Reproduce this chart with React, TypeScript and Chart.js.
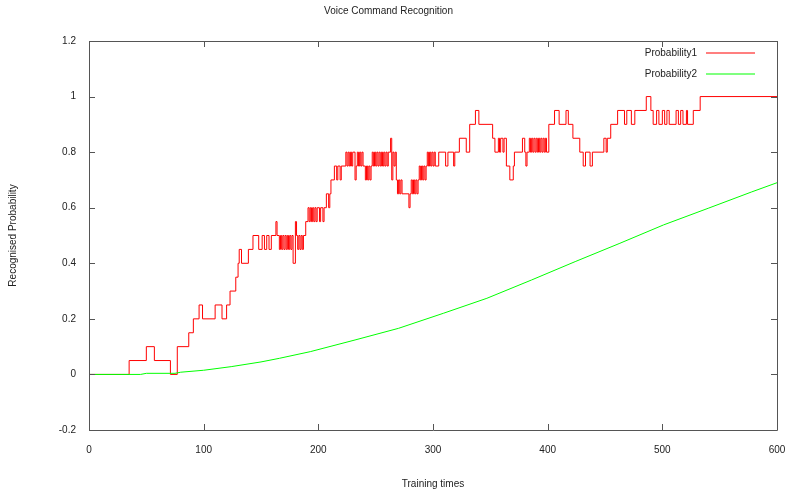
import React, { useEffect, useRef } from 'react';
import { Chart, registerables } from 'chart.js';

Chart.register(...registerables);

const titleText = 'Voice Command Recognition';
const xAxisTitle = 'Training times';
const yAxisTitle = 'Recognised Probability';
const seriesNames = ['Probability1', 'Probability2'];
const seriesColors = ['#ff0000', '#00ff00'];
const xTicks = [0, 100, 200, 300, 400, 500, 600];
const yTicks = [-0.2, 0, 0.2, 0.4, 0.6, 0.8, 1, 1.2];

// Probability1: [training time where the value starts, value]
const redSteps: [number, number][] = [
  [0, 0], [35, 0.05], [50, 0.1], [57, 0.05], [71, 0], [77, 0.1], [87, 0.15], [91, 0.2], [96, 0.25], [99, 0.2],
  [110, 0.25], [116, 0.2], [120, 0.25], [123, 0.3], [128, 0.35], [130, 0.4], [131, 0.45], [133, 0.4], [139, 0.45], [143, 0.5],
  [148, 0.45], [151, 0.5], [153, 0.45], [155, 0.5], [157, 0.45], [159, 0.5], [163, 0.55], [164, 0.5], [166, 0.45], [167, 0.5],
  [168, 0.45], [169, 0.5], [170, 0.45], [171, 0.5], [172, 0.45], [173, 0.5], [174, 0.45], [175, 0.5], [176, 0.45], [177, 0.5],
  [178, 0.4], [180, 0.55], [181, 0.5], [182, 0.45], [183, 0.5], [184, 0.45], [185, 0.5], [186, 0.45], [187, 0.5], [189, 0.55],
  [191, 0.6], [192, 0.55], [193, 0.6], [194, 0.55], [195, 0.6], [196, 0.55], [197, 0.6], [198, 0.55], [199, 0.6], [201, 0.55],
  [202, 0.6], [204, 0.55], [205, 0.6], [207, 0.65], [209, 0.6], [210, 0.65], [211, 0.7], [214, 0.75], [216, 0.7], [217, 0.75],
  [219, 0.7], [220, 0.75], [224, 0.8], [225, 0.75], [226, 0.8], [227, 0.75], [228, 0.8], [229, 0.75], [230, 0.8], [232, 0.7],
  [233, 0.75], [234, 0.8], [235, 0.75], [236, 0.8], [237, 0.75], [238, 0.8], [239, 0.75], [241, 0.7], [242, 0.75], [243, 0.7],
  [244, 0.75], [245, 0.7], [246, 0.75], [247, 0.8], [248, 0.75], [249, 0.8], [250, 0.75], [251, 0.8], [252, 0.75], [253, 0.8],
  [254, 0.75], [255, 0.8], [256, 0.75], [257, 0.8], [258, 0.75], [259, 0.8], [260, 0.75], [261, 0.8], [263, 0.85], [264, 0.7],
  [265, 0.8], [266, 0.75], [267, 0.8], [268, 0.7], [269, 0.65], [270, 0.7], [271, 0.65], [272, 0.7], [273, 0.65], [279, 0.6],
  [280, 0.65], [281, 0.7], [282, 0.65], [283, 0.7], [284, 0.65], [285, 0.7], [286, 0.65], [287, 0.7], [288, 0.75], [289, 0.7],
  [290, 0.75], [291, 0.7], [292, 0.75], [293, 0.7], [294, 0.75], [295, 0.8], [296, 0.75], [297, 0.8], [298, 0.75], [299, 0.8],
  [300, 0.75], [301, 0.8], [302, 0.75], [305, 0.8], [311, 0.75], [313, 0.8], [318, 0.75], [319, 0.8], [323, 0.85], [329, 0.8],
  [332, 0.9], [337, 0.95], [340, 0.9], [352, 0.85], [354, 0.8], [357, 0.85], [358, 0.8], [359, 0.85], [361, 0.8], [362, 0.85],
  [364, 0.75], [367, 0.7], [370, 0.75], [371, 0.8], [378, 0.85], [380, 0.8], [381, 0.75], [382, 0.8], [384, 0.85], [385, 0.8],
  [386, 0.85], [387, 0.8], [388, 0.85], [389, 0.8], [390, 0.85], [391, 0.8], [392, 0.85], [393, 0.8], [394, 0.85], [395, 0.8],
  [396, 0.85], [397, 0.8], [398, 0.85], [399, 0.8], [401, 0.9], [406, 0.95], [410, 0.9], [416, 0.95], [418, 0.9], [422, 0.85],
  [428, 0.8], [431, 0.75], [433, 0.8], [437, 0.75], [439, 0.8], [449, 0.85], [451, 0.8], [452, 0.85], [455, 0.9], [461, 0.95],
  [467, 0.9], [469, 0.95], [473, 0.9], [476, 0.95], [486, 1], [490, 0.95], [492, 0.9], [495, 0.95], [497, 0.9], [500, 0.95],
  [502, 0.9], [504, 0.95], [506, 0.9], [512, 0.95], [514, 0.9], [516, 0.95], [518, 0.9], [521, 0.95], [522, 0.9], [527, 0.95],
  [533, 1], [600, 1],
];

// Probability2: [training time, value]
const greenPoints: [number, number][] = [
  [0, 0], [45, 0], [50, 0.004], [75, 0.004], [80, 0.008], [100, 0.015], [124, 0.028], [150, 0.045], [166, 0.058],
  [193, 0.082], [232, 0.124], [270, 0.166], [309, 0.22], [347, 0.274], [386, 0.34], [424, 0.406], [463, 0.472],
  [501, 0.538], [540, 0.598], [578, 0.657], [600, 0.69],
];

const FONT = '"Liberation Sans", Arial, sans-serif';
const FONT_SIZE = 10;
const TEXT = '#222222';
const FRAME = '#555555';
const TICK_LEN = 6;

const framePlugin = {
  id: 'gnuFrame',
  afterDatasetsDraw(chart: any) {
    const { ctx, chartArea, scales } = chart;
    const { left, right, top, bottom } = chartArea;
    ctx.save();
    ctx.strokeStyle = FRAME;
    ctx.lineWidth = 1;
    ctx.beginPath();
    ctx.rect(Math.round(left) + 0.5, Math.round(top) + 0.5, Math.round(right - left), Math.round(bottom - top));
    ctx.stroke();
    ctx.beginPath();
    xTicks.forEach((v) => {
      const px = Math.round(scales.x.getPixelForValue(v)) + 0.5;
      ctx.moveTo(px, bottom);
      ctx.lineTo(px, bottom - TICK_LEN);
      ctx.moveTo(px, top);
      ctx.lineTo(px, top + TICK_LEN);
    });
    yTicks.forEach((v) => {
      const py = Math.round(scales.y.getPixelForValue(v)) + 0.5;
      ctx.moveTo(left, py);
      ctx.lineTo(left + TICK_LEN, py);
      ctx.moveTo(right, py);
      ctx.lineTo(right - TICK_LEN, py);
    });
    ctx.stroke();
    ctx.restore();
  },
  afterDraw(chart: any) {
    const { ctx, chartArea } = chart;
    ctx.save();
    ctx.font = FONT_SIZE + 'px ' + FONT;
    ctx.fillStyle = TEXT;
    ctx.textAlign = 'right';
    ctx.textBaseline = 'middle';
    const textRight = chartArea.right - 80;
    const lineStart = chartArea.right - 71;
    const lineEnd = chartArea.right - 22;
    seriesNames.forEach((name, i) => {
      const y = Math.round(chartArea.top + 12 + i * 21);
      ctx.fillText(name, textRight, y);
      ctx.strokeStyle = seriesColors[i];
      ctx.lineWidth = 1.2;
      ctx.beginPath();
      ctx.moveTo(lineStart, y);
      ctx.lineTo(lineEnd, y);
      ctx.stroke();
    });
    ctx.restore();
  },
};

export default function App() {
  const canvasRef = useRef<HTMLCanvasElement | null>(null);

  useEffect(() => {
    if (!canvasRef.current) return;
    const font = { family: FONT, size: FONT_SIZE };
    const chart = new Chart(canvasRef.current, {
      type: 'line',
      data: {
        datasets: [
          {
            label: seriesNames[0],
            data: redSteps.map(([x, y]) => ({ x, y })),
            borderColor: seriesColors[0],
            borderWidth: 1,
            pointRadius: 0,
            stepped: 'before',
            fill: false,
            order: 1,
          },
          {
            label: seriesNames[1],
            data: greenPoints.map(([x, y]) => ({ x, y })),
            borderColor: seriesColors[1],
            borderWidth: 1,
            pointRadius: 0,
            tension: 0,
            fill: false,
            order: 0,
          },
        ],
      },
      options: {
        responsive: false,
        animation: false,
        layout: { padding: { left: 0, right: 9, top: 0, bottom: 0 } },
        plugins: {
          legend: { display: false },
          tooltip: { enabled: false },
          title: {
            display: true,
            text: titleText,
            color: TEXT,
            font: { family: FONT, size: FONT_SIZE, weight: 'normal' },
            padding: { top: 5, bottom: 24 },
          },
        },
        scales: {
          x: {
            type: 'linear',
            min: 0,
            max: 600,
            afterBuildTicks: (s: any) => {
              s.ticks = xTicks.map((v) => ({ value: v }));
            },
            afterFit: (s: any) => {
              s.height = 62;
              s.paddingLeft = 0;
              s.paddingRight = 0;
            },
            grid: { display: false, drawTicks: false },
            border: { display: false },
            ticks: { color: TEXT, font, padding: 14, maxRotation: 0, autoSkip: false },
            title: { display: true, text: xAxisTitle, color: TEXT, font, padding: { top: 4, bottom: 2 } },
          },
          y: {
            type: 'linear',
            min: -0.2,
            max: 1.2,
            afterBuildTicks: (s: any) => {
              s.ticks = yTicks.map((v) => ({ value: v }));
            },
            afterFit: (s: any) => {
              s.width = 89;
              s.paddingTop = 0;
              s.paddingBottom = 0;
            },
            grid: { display: false, drawTicks: false },
            border: { display: false },
            ticks: {
              color: TEXT,
              font,
              padding: 13,
              autoSkip: false,
              callback: (v: any) => String(Math.round(Number(v) * 10) / 10),
            },
            title: { display: true, text: yAxisTitle, color: TEXT, font, padding: { top: 7, bottom: 0 } },
          },
        },
      },
      plugins: [framePlugin],
    } as any);
    return () => chart.destroy();
  }, []);

  return (
    <div style={{ position: 'absolute', left: 0, top: 0, width: 786, height: 492, background: '#ffffff' }}>
      <canvas ref={canvasRef} width={786} height={492} style={{ display: 'block' }} />
    </div>
  );
}
